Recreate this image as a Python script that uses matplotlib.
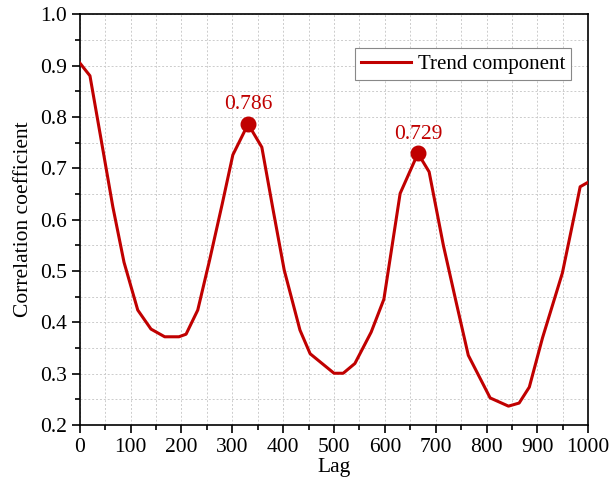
import numpy as np
import matplotlib
matplotlib.use('Agg')
import matplotlib.pyplot as plt
from matplotlib.ticker import MultipleLocator, FormatStrFormatter

# trend component autocorrelation
lag = [0, 20, 43, 65, 87, 114, 140, 167, 195, 209, 232, 255, 280, 301, 331,
       358, 380, 402, 433, 453, 500, 518, 541, 573, 598, 630, 665, 687, 715,
       740, 764, 807, 843, 864, 884, 910, 949, 975, 984, 1000]
corr = [0.905, 0.880, 0.750, 0.625, 0.517, 0.424, 0.387, 0.372, 0.372, 0.377,
        0.424, 0.520, 0.630, 0.726, 0.786, 0.741, 0.620, 0.502, 0.385, 0.339,
        0.301, 0.301, 0.320, 0.381, 0.445, 0.651, 0.729, 0.693, 0.550, 0.440,
        0.336, 0.253, 0.237, 0.243, 0.274, 0.370, 0.496, 0.620, 0.664, 0.673]

peak_lag = [331, 665]
peak_val = [0.786, 0.729]

red = '#C00000'
plt.rcParams['font.family'] = ['Liberation Serif', 'DejaVu Serif']
fs = 15.5

fig = plt.figure(figsize=(6.09, 4.87), dpi=100)
ax = fig.add_axes([0.131, 0.127, 0.835, 0.844])

ax.plot(lag, corr, color=red, lw=2.2, label='Trend component', zorder=3)
ax.scatter(peak_lag, peak_val, s=110, color=red, zorder=4)
for x, y in zip(peak_lag, peak_val):
    ax.annotate('%.3f' % y, (x, y), xytext=(0, 7), textcoords='offset points',
                ha='center', va='bottom', color=red, fontsize=fs)

ax.set_xlim(0, 1000)
ax.set_ylim(0.2, 1.0)
ax.xaxis.set_major_locator(MultipleLocator(100))
ax.xaxis.set_minor_locator(MultipleLocator(50))
ax.yaxis.set_major_locator(MultipleLocator(0.1))
ax.yaxis.set_minor_locator(MultipleLocator(0.05))
ax.yaxis.set_major_formatter(FormatStrFormatter('%.1f'))

ax.grid(which='both', color='#cccccc', ls=(0, (2, 2)), lw=0.7)
ax.set_axisbelow(True)
ax.tick_params(which='both', direction='out', labelsize=fs, width=1.2,
               top=False, right=False)
ax.tick_params(which='major', length=6, pad=3)
ax.tick_params(which='minor', length=3.5)
for s in ax.spines.values():
    s.set_linewidth(1.2)

ax.set_xlabel('Lag', fontsize=fs, labelpad=1)
ax.set_ylabel('Correlation coefficient', fontsize=fs, labelpad=5)

leg = ax.legend(loc='upper right', bbox_to_anchor=(0.987, 0.942), fontsize=15,
                fancybox=False, edgecolor='#888888', framealpha=1,
                handlelength=2.4, borderpad=0.3, handletextpad=0.3)
leg.get_frame().set_linewidth(0.8)

fig.savefig('out.png', dpi=100)
